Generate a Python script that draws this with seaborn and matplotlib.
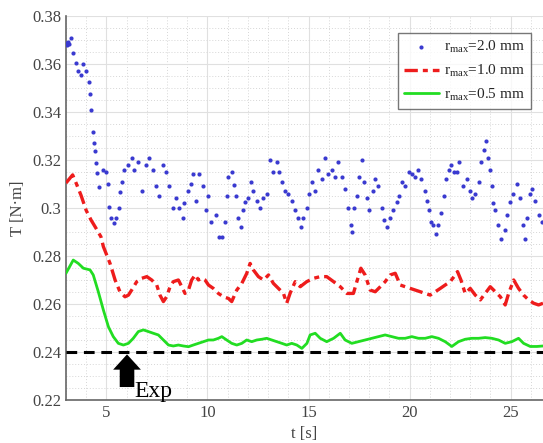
import numpy as np
import pandas as pd
import matplotlib
matplotlib.use("Agg")
import matplotlib.pyplot as plt
import seaborn as sns
from matplotlib.ticker import MultipleLocator

# ---------------- data ----------------
t_blue = [3.0, 3.05, 3.1, 3.15, 3.25, 3.36, 3.5, 3.59, 3.74, 3.86, 3.99, 4.12, 4.19, 4.25,
          4.32, 4.37, 4.42, 4.49, 4.53, 4.65, 4.82, 4.98, 5.06, 5.15, 5.23, 5.39, 5.48,
          5.61, 5.67, 5.77, 5.89, 6.05, 6.27, 6.38, 6.55, 6.76, 6.96, 7.13, 7.29, 7.46,
          7.62, 7.79, 7.95, 8.12, 8.28, 8.45, 8.61, 8.78, 8.86, 9.02, 9.19, 9.27, 9.44,
          9.6, 9.77, 9.93, 10.01, 10.18, 10.43, 10.59,
          10.70, 10.87, 10.95, 11.03, 11.2, 11.31, 11.41, 11.53, 11.64, 11.78, 11.86,
          12.02, 12.14, 12.27, 12.44, 12.6, 12.77, 12.93, 13.1, 13.26, 13.43, 13.56,
          13.67, 13.84, 14.0, 14.17, 14.33, 14.5, 14.61, 14.75, 14.91, 15.04, 15.16,
          15.32, 15.49, 15.65, 15.82, 15.98, 16.15, 16.31, 16.48, 16.64, 16.81, 16.97,
          17.09, 17.14, 17.27, 17.39, 17.52, 17.63, 17.75, 17.88, 18.01, 18.18, 18.29,
          18.46, 18.62, 18.74, 18.87,
          19.04, 19.2, 19.37, 19.48, 19.6, 19.78, 19.95, 20.11, 20.28, 20.41, 20.57,
          20.74, 20.85, 20.94, 21.07, 21.18, 21.3, 21.43, 21.56, 21.68, 21.79, 21.93,
          22.06, 22.22, 22.34, 22.45, 22.62, 22.83, 23.0, 23.11, 23.24, 23.41, 23.54,
          23.66, 23.77, 23.87, 23.99, 24.07, 24.15, 24.24, 24.37, 24.53, 24.7, 24.81,
          24.98, 25.14, 25.31, 25.47, 25.59, 25.69, 25.8, 25.97, 26.08, 26.22, 26.38,
          26.55]
T_blue = [0.3688, 0.368, 0.369, 0.3685, 0.371, 0.3646, 0.3604, 0.357, 0.3554, 0.360, 0.357,
          0.3525, 0.3475, 0.341, 0.3317, 0.327, 0.3238, 0.3188, 0.3146, 0.3088, 0.316,
          0.315, 0.310, 0.3004, 0.2958, 0.2938, 0.296, 0.300, 0.3067, 0.311, 0.316, 0.318,
          0.321, 0.316, 0.319, 0.307, 0.318, 0.321, 0.316, 0.309, 0.305, 0.318, 0.315,
          0.309, 0.300, 0.304, 0.300, 0.296, 0.302, 0.307, 0.310, 0.314, 0.303, 0.314,
          0.309, 0.299, 0.305, 0.294, 0.297, 0.288,
          0.288, 0.294, 0.305, 0.313, 0.315, 0.3095, 0.305, 0.296, 0.292, 0.299, 0.3025,
          0.304, 0.311, 0.307, 0.303, 0.300, 0.304, 0.306, 0.320, 0.315, 0.319, 0.315,
          0.311, 0.307, 0.306, 0.303, 0.299, 0.296, 0.292, 0.296, 0.300, 0.306, 0.311,
          0.307, 0.316, 0.312, 0.321, 0.314, 0.316, 0.313, 0.319, 0.313, 0.308, 0.300,
          0.293, 0.290, 0.300, 0.305, 0.313, 0.320, 0.311, 0.304, 0.299, 0.307, 0.312,
          0.309, 0.300, 0.295, 0.292,
          0.296, 0.299, 0.3025, 0.305, 0.311, 0.309, 0.315, 0.314, 0.313, 0.316, 0.312,
          0.307, 0.303, 0.299, 0.294, 0.293, 0.289, 0.293, 0.298, 0.305, 0.312, 0.316,
          0.318, 0.315, 0.315, 0.319, 0.309, 0.312, 0.307, 0.304, 0.306, 0.311, 0.319,
          0.324, 0.328, 0.321, 0.316, 0.309, 0.302, 0.299, 0.293, 0.287, 0.291, 0.297,
          0.3025, 0.306, 0.310, 0.304, 0.293, 0.287, 0.296, 0.306, 0.308, 0.303, 0.297,
          0.294]

t_red = [3.0, 3.33, 3.5, 3.74, 4.0, 4.24, 4.49, 4.73, 4.85, 5.18, 5.43, 5.67, 5.92, 6.09,
         6.25, 6.5, 6.75, 7.0, 7.24, 7.49, 7.65, 7.82, 7.98, 8.15, 8.31, 8.56, 8.73, 8.89,
         9.06, 9.22, 9.39, 9.55, 9.72, 9.88, 10.05, 10.29, 10.54, 10.79, 11.04, 11.2,
         11.45, 11.7, 11.94, 12.11, 12.27, 12.52, 12.77, 13.02, 13.26, 13.51, 13.76,
         13.92, 14.09, 14.34, 14.59, 14.91, 15.25, 15.58, 15.9, 16.24, 16.57, 16.9, 17.22,
         17.39, 17.59, 17.8, 18.05, 18.3, 18.55, 18.79, 19.04, 19.29, 19.54, 19.78, 20.03,
         20.28, 20.53, 20.77, 21.02, 21.27, 21.52, 21.76, 22.01, 22.26, 22.37, 22.54,
         22.75, 23.0, 23.25, 23.5, 23.74, 23.99, 24.24, 24.49, 24.73, 24.9, 25.15, 25.39,
         25.64, 25.89, 26.14, 26.38, 26.6]
T_red = [0.3104, 0.3138, 0.3104, 0.3054, 0.299, 0.295, 0.2915, 0.288, 0.2839, 0.2769,
         0.2700, 0.2651, 0.263, 0.2637, 0.2658, 0.2693, 0.2707, 0.2714, 0.270, 0.2679,
         0.2637, 0.2610, 0.263, 0.2672, 0.2693, 0.270, 0.2672, 0.2644, 0.2658, 0.270,
         0.2721, 0.270, 0.2707, 0.270, 0.2679, 0.2665, 0.2644, 0.263, 0.2623, 0.261,
         0.2658, 0.2686, 0.2727, 0.2769, 0.2742, 0.2714, 0.270, 0.2721, 0.2686, 0.2665,
         0.2644, 0.2603, 0.2645, 0.2693, 0.2672, 0.2693, 0.2707, 0.2714, 0.2714, 0.2693,
         0.2672, 0.2644, 0.2644, 0.2693, 0.2749, 0.2721, 0.2658, 0.2651, 0.2672, 0.2693,
         0.2721, 0.2728, 0.2679, 0.2672, 0.2665, 0.2658, 0.2651, 0.2644, 0.2637, 0.2651,
         0.2665, 0.2679, 0.2693, 0.2721, 0.2735, 0.270, 0.2644, 0.2665, 0.2637, 0.2617,
         0.2644, 0.2672, 0.2651, 0.263, 0.2596, 0.2644, 0.270, 0.2665, 0.2637, 0.2617,
         0.2603, 0.2596, 0.2603]

t_green = [3.0, 3.36, 3.61, 3.86, 4.19, 4.35, 4.6, 4.85, 5.1, 5.34, 5.59, 5.84, 6.09, 6.33,
           6.58, 6.83, 7.08, 7.32, 7.57, 7.82, 8.07, 8.31, 8.56, 8.81, 9.06, 9.3, 9.55,
           9.8, 10.05, 10.29, 10.54, 10.71, 10.95, 11.2, 11.45, 11.7, 11.94, 12.19, 12.44,
           12.69, 12.93, 13.18, 13.43, 13.68, 13.92, 14.17, 14.42, 14.67, 14.92, 15.08,
           15.33, 15.58, 15.9, 16.24, 16.57, 16.81, 17.14, 17.47, 17.8, 18.13, 18.46, 18.79,
           19.12, 19.45, 19.78, 20.11, 20.44, 20.77, 21.1, 21.43, 21.76, 22.09, 22.42,
           22.75, 23.08, 23.41, 23.74, 24.07, 24.4, 24.73, 25.06, 25.39, 25.64, 25.97,
           26.3, 26.6]
T_green = [0.2728, 0.2783, 0.2769, 0.2749, 0.2742, 0.2721, 0.2651, 0.2575, 0.2505, 0.2464,
           0.2436, 0.2429, 0.2436, 0.2457, 0.2485, 0.2492, 0.2485, 0.2478, 0.2471, 0.245,
           0.2429, 0.2425, 0.2429, 0.2425, 0.2422, 0.2429, 0.2436, 0.2443, 0.245, 0.245,
           0.2457, 0.2464, 0.245, 0.2436, 0.2429, 0.2436, 0.245, 0.2443, 0.245, 0.2453,
           0.2457, 0.245, 0.2443, 0.2436, 0.2429, 0.2436, 0.2429, 0.2415, 0.2436, 0.2471,
           0.2478, 0.2457, 0.2443, 0.2457, 0.2478, 0.245, 0.2436, 0.2443, 0.245, 0.2457,
           0.2464, 0.2471, 0.2464, 0.2457, 0.2457, 0.2464, 0.2457, 0.2457, 0.2464, 0.2457,
           0.2443, 0.2423, 0.2443, 0.2453, 0.2457, 0.2457, 0.246, 0.2457, 0.245, 0.2436,
           0.2443, 0.2457, 0.2436, 0.2423, 0.2423, 0.2425]

T_exp = 0.24
labels = [r"r$_{\mathrm{max}}$=2.0 mm", r"r$_{\mathrm{max}}$=1.0 mm", r"r$_{\mathrm{max}}$=0.5 mm"]
x_ticks = [5, 10, 15, 20, 25]
y_ticks = [0.22, 0.24, 0.26, 0.28, 0.30, 0.32, 0.34, 0.36, 0.38]

# ---------------- styling ----------------
sns.set_style("white")
plt.rcParams["font.family"] = ["Liberation Serif", "DejaVu Serif"]
plt.rcParams["mathtext.fontset"] = "custom"
plt.rcParams["mathtext.rm"] = "Liberation Serif"
plt.rcParams["mathtext.it"] = "Liberation Serif:italic"

df_b = pd.DataFrame({"t": t_blue, "T": T_blue})
df_r = pd.DataFrame({"t": t_red, "T": T_red})
df_g = pd.DataFrame({"t": t_green, "T": T_green})

fig = plt.figure(figsize=(5.43, 4.43), dpi=100)
ax = fig.add_axes([0.1215, 0.0971, 0.8785, 0.8668])

# grid
ax.set_axisbelow(True)
ax.xaxis.set_minor_locator(MultipleLocator(1))
ax.yaxis.set_minor_locator(MultipleLocator(0.005))
ax.grid(which="major", color="#e0e0e0", linestyle="-", linewidth=0.8)
ax.grid(which="minor", color="#d6d6d6", linestyle=(0, (1, 2)), linewidth=0.7)

sns.scatterplot(data=df_b, x="t", y="T", ax=ax, color="#3a3ad0", s=9, linewidth=0,
                label=labels[0], zorder=3)
sns.lineplot(data=df_r, x="t", y="T", ax=ax, color="#ee1c1c", linewidth=2.4,
             linestyle=(0, (4, 1.5, 1.5, 1.5)), label=labels[1], zorder=4, sort=False)
sns.lineplot(data=df_g, x="t", y="T", ax=ax, color="#22dd22", linewidth=2.0,
             label=labels[2], zorder=4, sort=False)
ax.axhline(T_exp, color="black", linestyle=(0, (3.5, 2.2)), linewidth=2.2, zorder=5)

# Exp arrow
ax.annotate("", xy=(6.02, 0.2390), xytext=(6.02, 0.2254),
            arrowprops=dict(arrowstyle="simple,head_width=2.0,head_length=1.1,tail_width=1.05",
                            mutation_scale=10, color="black", lw=0, shrinkA=0, shrinkB=0),
            zorder=6)
ax.text(6.4, 0.2212, "Exp", fontsize=17, color="black", ha="left", va="baseline", zorder=6)

ax.set_xlim(3, 26.6)
ax.set_ylim(0.22, 0.38)
ax.set_xticks(x_ticks)
ax.set_yticks(y_ticks)
ax.set_yticklabels(["0.22", "0.24", "0.26", "0.28", "0.3", "0.32", "0.34", "0.36", "0.38"])
ax.tick_params(axis="both", which="major", direction="in", length=4, labelsize=12,
               labelcolor="#444444", color="#555555", width=1)
ax.tick_params(axis="both", which="minor", length=0)
for s in ["top", "right"]:
    ax.spines[s].set_visible(False)
for s in ["left", "bottom"]:
    ax.spines[s].set_color("#666666")
    ax.spines[s].set_linewidth(1.2)

ax.set_xlabel("t [s]", fontsize=12, color="#444444", labelpad=4)
ax.set_ylabel("T [N·m]", fontsize=12, color="#444444", labelpad=4)

leg = ax.legend(loc="upper right", bbox_to_anchor=(0.99, 0.975), fontsize=11,
                frameon=True, fancybox=False, edgecolor="#555555", handlelength=2.3,
                handletextpad=0.3, borderpad=0.4, labelspacing=0.5, markerscale=1.0)
leg.get_frame().set_linewidth(1.0)

fig.savefig("out.png", dpi=100)
